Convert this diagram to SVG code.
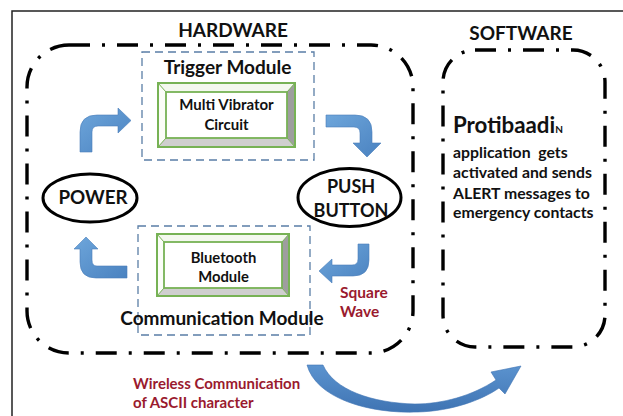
<svg xmlns="http://www.w3.org/2000/svg" width="623" height="416" viewBox="0 0 623 416">
<defs>
<linearGradient id="blu" x1="0" y1="0" x2="1" y2="1">
<stop offset="0" stop-color="#6ea6db"/>
<stop offset="1" stop-color="#4a82c0"/>
</linearGradient>
<linearGradient id="blu2" x1="0" y1="0" x2="0" y2="1">
<stop offset="0" stop-color="#5b93cf"/>
<stop offset="1" stop-color="#3f74b3"/>
</linearGradient>
<style>
.t{font-family:Lato,"Liberation Sans",sans-serif;font-weight:bold;fill:#111;}
.r{font-family:Lato,"Liberation Sans",sans-serif;font-weight:bold;fill:#9a1a2e;}
.dd{fill:none;stroke:#000;stroke-width:3.4;stroke-dasharray:21 12 3 12;}
.bx{fill:none;stroke:#5a7ea6;stroke-width:1.3;stroke-dasharray:8 5;}
.ell{fill:#fff;stroke:#000;stroke-width:3;}
.arr{fill:url(#blu);stroke:#4a7ebb;stroke-width:0.6;}
.go{fill:#fff;stroke:#77b255;stroke-width:2;}
.gi{fill:#fff;stroke:#77b255;stroke-width:1.8;}
</style>
</defs>
<rect width="623" height="416" fill="#fff"/>
<path d="M12,416 L12,11 L623,11" fill="none" stroke="#222" stroke-width="1.5"/>

<g id="hardware">
<rect class="dd" x="27" y="45" width="386" height="308" rx="42" ry="42"/>
<text class="t" x="233" y="37" font-size="19" text-anchor="middle">HARDWARE</text>
</g>

<g id="software">
<rect class="dd" x="443" y="50" width="162" height="297" rx="32" ry="32"/>
<text class="t" x="521" y="40" font-size="19" text-anchor="middle">SOFTWARE</text>
<text class="t" x="453" y="133" font-size="22.3">Protibaadi<tspan font-size="10">N</tspan></text>
<text class="t" font-size="15.8"><tspan x="453" y="158">application&#160; gets</tspan><tspan x="453" y="178">activated and sends</tspan><tspan x="453" y="199">ALERT messages to</tspan><tspan x="453" y="218">emergency contacts</tspan></text>
</g>

<g id="trigger-module">
<rect class="bx" x="142" y="52" width="172" height="108"/>
<text class="t" x="227.5" y="74" font-size="19" text-anchor="middle">Trigger Module</text>
</g>

<g id="multi-vibrator">
<rect class="go" x="158" y="83" width="137" height="64"/>
<polygon points="158,83 295,83 287,92 166,92" fill="#f4f8ef"/>
<polygon points="158,83 166,92 166,138 158,147" fill="#fbfdf8"/>
<polygon points="295,83 295,147 287,138 287,92" fill="#9e9e9e"/>
<polygon points="158,147 295,147 287,138 166,138" fill="#cfcfcf"/>
<path d="M158,83 L166,92 M295,83 L287,92 M158,147 L166,138 M295,147 L287,138" stroke="#77b255" stroke-width="1"/>
<rect x="158" y="83" width="137" height="64" fill="none" stroke="#77b255" stroke-width="2"/>
<rect class="gi" x="166" y="92" width="121" height="46"/>
<text class="t" x="226.5" y="110" font-size="15" text-anchor="middle">Multi Vibrator</text>
<text class="t" x="226.5" y="130" font-size="15" text-anchor="middle">Circuit</text>
</g>

<g id="communication-module">
<rect class="bx" x="138" y="226" width="172" height="109"/>
<text class="t" x="222" y="325" font-size="19" text-anchor="middle">Communication Module</text>
</g>

<g id="bluetooth">
<rect class="go" x="157" y="234" width="132" height="62"/>
<polygon points="157,234 289,234 282,242 164,242" fill="#f4f8ef"/>
<polygon points="157,234 164,242 164,288 157,296" fill="#fbfdf8"/>
<polygon points="289,234 289,296 282,288 282,242" fill="#9e9e9e"/>
<polygon points="157,296 289,296 282,288 164,288" fill="#cfcfcf"/>
<path d="M157,234 L164,242 M289,234 L282,242 M157,296 L164,288 M289,296 L282,288" stroke="#77b255" stroke-width="1"/>
<rect x="157" y="234" width="132" height="62" fill="none" stroke="#77b255" stroke-width="2"/>
<rect class="gi" x="164" y="242" width="118" height="46"/>
<text class="t" x="223.5" y="263" font-size="14.8" text-anchor="middle">Bluetooth</text>
<text class="t" x="223.5" y="282" font-size="14.8" text-anchor="middle">Module</text>
</g>

<g id="power">
<ellipse class="ell" cx="90" cy="198" rx="47" ry="24"/>
<text class="t" x="93" y="204" font-size="18.8" text-anchor="middle">POWER</text>
</g>

<g id="push-button">
<ellipse class="ell" cx="349.5" cy="197.5" rx="51.5" ry="29"/>
<text class="t" x="351" y="193" font-size="18" text-anchor="middle">PUSH</text>
<text class="t" x="351" y="217" font-size="18" text-anchor="middle">BUTTON</text>
</g>

<g id="connectors">
<path class="arr" d="M80,152 L80,132 Q80,115 97,115 L118,115 L118,108 L131,120.5 L118,133 L118,126 L98,126 Q92,126 92,132 L92,152 Z"/>
<path class="arr" d="M326,115 L355,115 Q372,115 372,132 L372,143 L381,143 L367,157 L353,143 L360,143 L360,133 Q360,127 354,127 L326,127 Z"/>
<path class="arr" d="M358,244 L369,244 L369,260 Q369,276 353,276 L332,276 L332,283 L319,271 L332,259 L332,265 L352,265 Q358,265 358,259 Z"/>
<path class="arr" d="M127,266 L97,266 Q92,266 92,260 L92,249 L98,249 L86,237 L74,249 L80,249 L80,262 Q80,278 96,278 L127,278 Z"/>
<path fill="url(#blu2)" stroke="#3f74b3" stroke-width="0.6" d="M307,365 C316,398 368,414 418,412 C452,411 482,400 499,388 L505,394 L521,366 L491,372 L496,380 C472,396 442,404 415,404 C372,403 334,390 323,365 Z"/>
<text class="r" font-size="15.5"><tspan x="340" y="298">Square</tspan><tspan x="340" y="317">Wave</tspan></text>
<text class="r" font-size="15"><tspan x="133" y="389">Wireless Communication</tspan><tspan x="133" y="408">of ASCII character</tspan></text>
</g>
</svg>
